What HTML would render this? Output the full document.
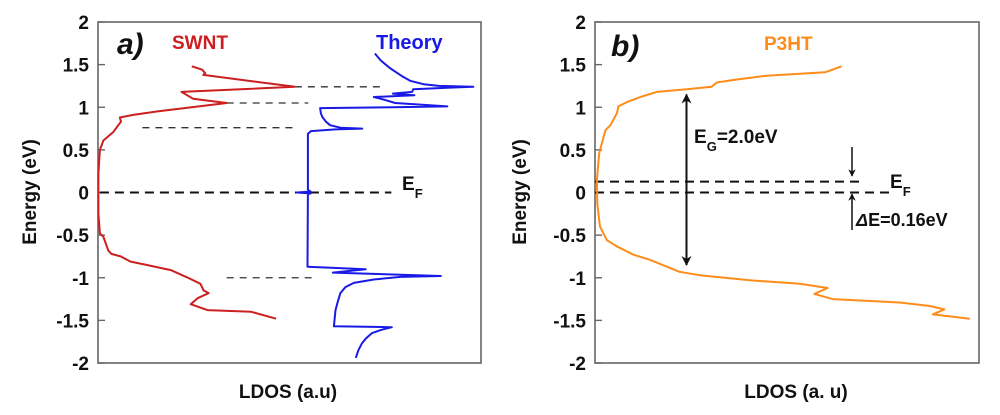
<!DOCTYPE html>
<html><head><meta charset="utf-8"><style>
body{margin:0;background:#fff;}
svg{display:block;font-family:"Liberation Sans",Arial,sans-serif;font-weight:bold;}
</style></head><body>
<svg id="fig" width="1000" height="415" viewBox="0 0 1000 415" xmlns="http://www.w3.org/2000/svg"></svg>
<script>
// ---- data ----
const yTicks = [2, 1.5, 1, 0.5, 0, -0.5, -1, -1.5, -2];
const swntE = [1.48,1.44,1.40,1.38,1.24,1.18,1.10,1.05,0.95,0.91,0.88,0.83,0.79,0.71,0.61,0.50,0.23,-0.25,-0.48,-0.52,-0.68,-0.72,-0.75,-0.81,-0.85,-0.91,-0.99,-1.07,-1.15,-1.18,-1.24,-1.31,-1.38,-1.40,-1.48];
const swntL = [24.5,27.2,28.0,27.5,51.4,21.8,24.8,33.6,15.3,9.2,5.7,6.0,5.3,4.0,1.4,0.5,0.1,0.1,0.5,1.4,2.7,3.5,5.9,8.5,12.8,19.0,23.0,26.7,27.6,28.9,26.0,24.2,28.6,40.0,46.5];
const theoryE = [1.63,1.55,1.46,1.37,1.31,1.27,1.25,1.24,1.23,1.21,1.18,1.16,1.15,1.14,1.12,1.09,1.05,1.01,1.00,0.99,0.93,0.89,0.83,0.79,0.76,0.75,0.74,0.72,0.69,0.03,0.01,0.0,-0.01,-0.02,-0.87,-0.90,-0.94,-0.98,-0.99,-1.02,-1.06,-1.11,-1.18,-1.28,-1.38,-1.57,-1.58,-1.61,-1.65,-1.71,-1.77,-1.85,-1.94];
const theoryL = [72.3,73.8,76.2,79.2,81.5,85.0,89.0,98.0,92.0,82.3,82.0,77.0,80.0,82.6,72.0,74.6,77.6,91.2,77.0,58.0,58.2,58.5,59.5,60.6,63.3,69.0,62.0,55.6,54.8,54.8,55.5,51.9,55.5,54.8,54.7,69.9,61.3,89.5,79.0,72.0,66.8,64.6,63.3,62.6,62.0,61.6,76.7,74.0,71.5,70.0,68.9,68.0,67.3];
const p3htE = [1.48,1.43,1.41,1.37,1.32,1.29,1.24,1.21,1.18,1.12,1.06,1.01,0.93,0.79,0.73,0.58,0.46,0.15,-0.13,-0.40,-0.56,-0.63,-0.73,-0.79,-0.93,-0.97,-1.03,-1.07,-1.12,-1.19,-1.25,-1.29,-1.33,-1.37,-1.43,-1.48];
const p3htL = [64.2,61.2,59.9,44.7,36.0,31.7,30.4,23.9,16.1,11.8,8.3,6.1,5.7,4.0,2.7,1.8,1.1,0.5,0.6,1.3,3.1,5.6,10.0,14.3,22.0,27.3,40.3,53.3,60.6,57.1,61.9,79.3,87.0,91.0,88.0,97.6];
const guideE = [1.24, 1.05, 0.76, 0, -1.0];
const guideL0 = [51.4, 33.6, 11.6, 0.5, 33.6];
const guideL1 = [73.6, 54.9, 51.0, 76.6, 56.0];
const efShiftE = [0.127, 0];
const gapE = [1.15, -0.85];

// ---- geometry ----
const NS = "http://www.w3.org/2000/svg";
const svg = document.getElementById('fig');
const yTop = 22, yBot = 363, eMax = 2, eMin = -2;
const yS = e => yTop + (eMax - e) / (eMax - eMin) * (yBot - yTop);
function mk(tag, attrs, parent){ const el=document.createElementNS(NS,tag); for(const k in attrs) el.setAttribute(k,attrs[k]); (parent||svg).appendChild(el); return el; }
function panel(x0, w, id, labelX, titleX, xTitle, xTitleX){
  const g = mk('g', {});
  
  
  const box = mk('rect', {x:x0, y:yTop, width:w, height:yBot-yTop, fill:'none', stroke:'#666', 'stroke-width':1.6}, g);
  
  
  yTicks.forEach(v => {
    const tk = mk('line', {x1:x0, x2:x0+7, y1:yS(v), y2:yS(v), stroke:'#666', 'stroke-width':1.4}, g);
    
    
    const t = mk('text', {x:labelX, y:yS(v)+7, 'text-anchor':'end', 'font-size':19, fill:'#111'}, g);
    t.textContent = v;
    
    
  });
  const yt = mk('text', {x:0, y:0, transform:`translate(${titleX},192) rotate(-90)`, 'text-anchor':'middle', 'font-size':19, fill:'#111'}, g);
  yt.textContent = 'Energy (eV)';
  
  
  const xt = mk('text', {x:xTitleX, y:398, 'text-anchor':'middle', 'font-size':19, fill:'#111'}, g);
  xt.textContent = xTitle;
  
  
  return g;
}
function series(x0, w, Es, Ls, color, name){
  const xS = l => x0 + l / 100 * w;
  const d = Es.map((e,i) => (i?'L':'M') + xS(Ls[i]).toFixed(1) + ',' + yS(e).toFixed(1)).join('');
  const p = mk('path', {d, fill:'none', stroke:color, 'stroke-width':2, 'stroke-linejoin':'round'});
  
  
}
function txt(x, y, s, size, color, name, extra){
  const t = mk('text', Object.assign({x, y, 'font-size':size, fill:color}, extra||{}));
  t.innerHTML = s;
  
  
  return t;
}

// ---- panel a ----
const aX = 98, aW = 383;
panel(aX, aW, 'a', 89, 36, 'LDOS (a.u)', 288);
const xA = l => aX + l / 100 * aW;
guideE.forEach((e,i) => {
  const ln = mk('line', {x1:xA(guideL0[i]), x2:xA(guideL1[i]), y1:yS(e), y2:yS(e), stroke: e===0?'#111':'#333', 'stroke-width': e===0?2:1.3, 'stroke-dasharray': e===0?'9,6':'7,6'});
  
  
});
series(aX, aW, swntE, swntL, '#cc1f1f', 'swnt-curve');
series(aX, aW, theoryE, theoryL, '#1a1ae6', 'theory-curve');
txt(117, 54, 'a)', 30, '#111', 'panel-a-label', {'font-style':'italic'});
txt(172, 49, 'SWNT', 19, '#cc1f1f', 'swnt-legend');
txt(376, 49, 'Theory', 20, '#1a1ae6', 'theory-legend');
txt(402, 190, 'E<tspan font-size="13" dy="8">F</tspan>', 19, '#111', 'fermi-label-a');

// ---- panel b ----
const bX = 595, bW = 384;
panel(bX, bW, 'b', 586, 526, 'LDOS (a. u)', 796);
const ends = [860, 893];
efShiftE.forEach((e,i) => {
  const ln = mk('line', {x1:bX, x2:ends[i], y1:yS(e), y2:yS(e), stroke:'#111', 'stroke-width':2, 'stroke-dasharray':'9,6'});
  
  
});
series(bX, bW, p3htE, p3htL, '#ff8c1a', 'p3ht-curve');
const defs = mk('defs', {});
const mkr = mk('marker', {id:'ah', viewBox:'0 0 10 10', refX:9, refY:5, markerWidth:5, markerHeight:6, orient:'auto-start-reverse'}, defs);
mk('path', {d:'M0,0L10,5L0,10L3,5z', fill:'#111'}, mkr);
const gap = mk('line', {x1:686.5, x2:686.5, y1:yS(gapE[0]), y2:yS(gapE[1]), stroke:'#111', 'stroke-width':2, 'marker-start':'url(#ah)', 'marker-end':'url(#ah)'});


const a1 = mk('line', {x1:852, x2:852, y1:147, y2:176, stroke:'#111', 'stroke-width':1.5, 'marker-end':'url(#ah)'});


const a2 = mk('line', {x1:852, x2:852, y1:230, y2:194, stroke:'#111', 'stroke-width':1.5, 'marker-end':'url(#ah)'});


txt(611, 56, 'b)', 30, '#111', 'panel-b-label', {'font-style':'italic'});
txt(764, 50, 'P3HT', 19, '#ff8c1a', 'p3ht-legend');
txt(694, 143, 'E<tspan font-size="13" dy="8">G</tspan><tspan dy="-8">=2.0eV</tspan>', 19, '#111', 'band-gap-label');
txt(890, 188, 'E<tspan font-size="13" dy="8">F</tspan>', 19, '#111', 'fermi-label-b');
txt(856, 226, '<tspan font-style="italic">Δ</tspan>E=0.16eV', 18, '#111', 'delta-e-label');
</script>
</body></html>
